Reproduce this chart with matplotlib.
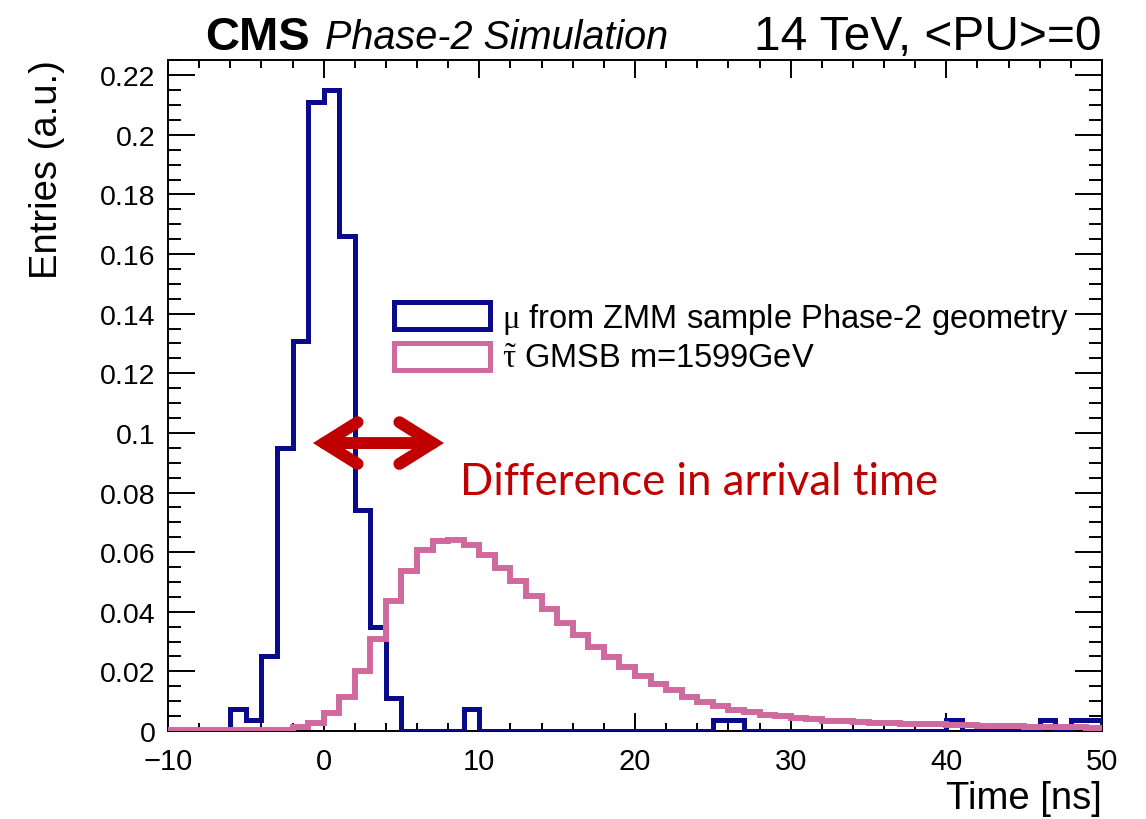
import numpy as np
import matplotlib
matplotlib.use('Agg')
import matplotlib.pyplot as plt
from matplotlib.patches import Patch, FancyArrowPatch
from matplotlib.ticker import MultipleLocator, FuncFormatter

plt.rcParams['font.family'] = ['Liberation Sans', 'DejaVu Sans']
plt.rcParams['mathtext.fontset'] = 'custom'
plt.rcParams['mathtext.rm'] = 'Liberation Serif'
plt.rcParams['mathtext.it'] = 'Liberation Serif:italic'

# 1 ns bins, -10 .. 50 ns
bin_edges = np.arange(-10, 51, 1)

# mu from ZMM sample, Phase-2 geometry
muon_zmm = [0, 0, 0, 0, 0.0074, 0.0037, 0.025, 0.095, 0.131, 0.211,
            0.215, 0.166, 0.074, 0.035, 0.011, 0, 0, 0, 0, 0.0074,
            0, 0, 0, 0, 0, 0, 0, 0, 0, 0,
            0, 0, 0, 0, 0, 0.0037, 0.0037, 0, 0, 0,
            0, 0, 0, 0, 0, 0, 0, 0, 0, 0,
            0.0037, 0, 0, 0, 0, 0, 0.0037, 0, 0.0037, 0.0037]

# stau GMSB m=1599 GeV
stau_gmsb = [0.0002, 0.0002, 0.0002, 0.0002, 0.0002, 0.0002, 0.0003, 0.0005, 0.0012, 0.0028,
             0.006, 0.0113, 0.0202, 0.031, 0.0436, 0.0538, 0.0608, 0.0637, 0.0642, 0.0625,
             0.0592, 0.0547, 0.0502, 0.0453, 0.0408, 0.0362, 0.0322, 0.0283, 0.0248, 0.0214,
             0.0186, 0.0158, 0.0136, 0.0113, 0.0096, 0.0083, 0.0072, 0.0063, 0.0055, 0.0049,
             0.0043, 0.0039, 0.0035, 0.0032, 0.0030, 0.0028, 0.0026, 0.0025, 0.0024, 0.0022,
             0.0021, 0.0019, 0.0018, 0.0017, 0.0016, 0.0015, 0.0014, 0.0013, 0.0012, 0.0011]

labels = [r'$\mathrm{\mu}$ from ZMM sample Phase-2 geometry',
          r'$\mathrm{\tilde{\tau}}$ GMSB m=1599GeV']
blue = '#0a0a8c'
pink = '#cf6a9f'
red = '#c00000'

W, H = 1146, 820
fig = plt.figure(figsize=(W / 100, H / 100), dpi=100)
ax = fig.add_axes([168 / W, 1 - 732 / H, (1102 - 168) / W, (732 - 61) / H])

ax.stairs(muon_zmm, bin_edges, color=blue, linewidth=3.6, zorder=3)
ax.stairs(stau_gmsb, bin_edges, color=pink, linewidth=4.3, zorder=4)

ax.set_xlim(-10, 50)
ax.set_ylim(0, 0.2251)
ax.xaxis.set_major_locator(MultipleLocator(10))
ax.xaxis.set_minor_locator(MultipleLocator(2))
ax.yaxis.set_major_locator(MultipleLocator(0.02))
ax.yaxis.set_minor_locator(MultipleLocator(0.005))
ax.yaxis.set_major_formatter(FuncFormatter(lambda v, p: '%g' % round(v, 3)))

ax.tick_params(which='both', direction='in', top=True, right=True, width=1.4)
ax.tick_params(axis='x', which='major', length=13, pad=11.5, labelsize=21)
ax.tick_params(axis='x', which='minor', length=6)
ax.tick_params(axis='y', which='major', length=19.5, pad=9, labelsize=20.5)
ax.tick_params(axis='y', which='minor', length=9.5)
for s in ax.spines.values():
    s.set_linewidth(1.4)

# axis titles
fig.text(1102 / W, 1 - 809 / H, 'Time [ns]', ha='right', va='baseline', fontsize=27.5)
fig.text(47 / W, 1 - 60 / H, 'Entries (a.u.)', rotation=90, ha='center', va='top', fontsize=27.5)

# header
fig.text(205 / W, 1 - 50 / H, 'CMS', fontweight='bold', fontsize=34, va='baseline')
fig.text(325 / W, 1 - 49 / H, 'Phase-2 Simulation', style='italic', fontsize=28.5, va='baseline')
fig.text(1102 / W, 1 - 50 / H, '14 TeV, <PU>=0', ha='right', fontsize=34.5, va='baseline')

# legend
handles = [Patch(facecolor='white', edgecolor=blue, linewidth=3.6),
           Patch(facecolor='white', edgecolor=pink, linewidth=3.6)]
ax.legend(handles, labels, loc='upper left', bbox_to_anchor=(394 / W, 1 - 302 / H),
          bbox_transform=fig.transFigure, frameon=False, fontsize=23.5,
          handlelength=2.95, handleheight=0.9, handletextpad=0.35,
          labelspacing=0.2, borderpad=0, borderaxespad=0)

# arrow + annotation
arrow = FancyArrowPatch(posA=(-0.69, 0.0966), posB=(7.73, 0.0966),
                        arrowstyle='<->,head_length=24,head_width=15', mutation_scale=1,
                        lw=8.6, color=red, capstyle='round', joinstyle='miter',
                        shrinkA=0, shrinkB=0, zorder=6)
ax.add_patch(arrow)
ax.text(8.75, 0.0795, 'Difference in arrival time', color=red, fontsize=31.5,
        family=['Lato', 'DejaVu Sans'], va='baseline', zorder=6)

fig.savefig('out.png', dpi=100)
